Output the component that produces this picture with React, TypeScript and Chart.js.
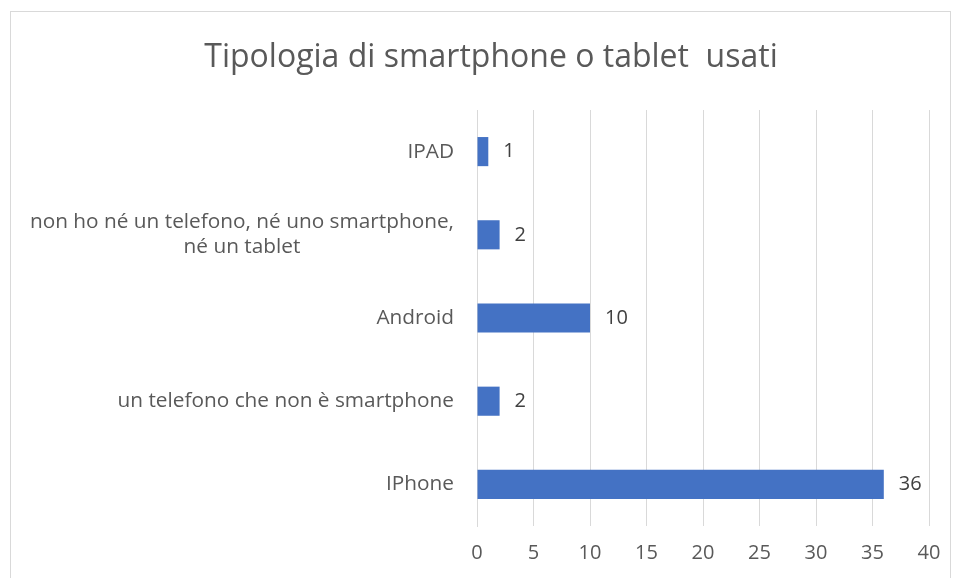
import React, { useEffect, useRef } from "react";
import { Chart, registerables } from "chart.js";

Chart.register(...registerables);

const categories: string[][] = [
  ["IPAD"],
  ["non ho né un telefono, né uno smartphone,", "né un tablet"],
  ["Android"],
  ["un telefono che non è smartphone"],
  ["IPhone"],
];
const values: number[] = [1, 2, 10, 2, 36];
const xTicks: number[] = [0, 5, 10, 15, 20, 25, 30, 35, 40];
const titleText = "Tipologia di smartphone o tablet  usati";

const FONT = "'Open Sans'";

export default function App() {
  const ref = useRef<HTMLCanvasElement | null>(null);
  useEffect(() => {
    document.body.style.margin = "0";
    const canvas = ref.current!;
    const framePlugin = {
      id: "frame",
      beforeDraw(chart: any) {
        const ctx = chart.ctx;
        ctx.save();
        ctx.strokeStyle = "#d9d9d9";
        ctx.lineWidth = 1;
        ctx.strokeRect(10.5, 11.5, 940, 600);
        ctx.restore();
      },
    };
    const labelPlugin = {
      id: "labels",
      afterDraw(chart: any) {
        const ctx = chart.ctx;
        const y = chart.scales.y;
        const x = chart.scales.x;
        ctx.save();
        ctx.textBaseline = "middle";
        ctx.fillStyle = "#595959";
        ctx.font = `32px ${FONT}`;
        ctx.textAlign = "center";
        ctx.fillText(titleText, 491, 58);
        ctx.font = `20.8px ${FONT}`;
        const lh = 25;
        categories.forEach((lines, i) => {
          const cy = y.getPixelForValue(i);
          const widths = lines.map((l) => ctx.measureText(l).width);
          const maxW = Math.max(...widths);
          const right = 454;
          const center = right - maxW / 2;
          lines.forEach((l, j) => {
            ctx.textAlign = "center";
            ctx.fillText(l, center, cy + (j - (lines.length - 1) / 2) * lh);
          });
        });
        ctx.fillStyle = "#404040";
        ctx.textAlign = "left";
        ctx.font = `20px ${FONT}`;
        values.forEach((v, i) => {
          const px = x.getPixelForValue(v);
          const cy = y.getPixelForValue(i);
          ctx.fillText(String(v), px + 15, cy);
        });
        ctx.restore();
      },
    };
    const chart = new Chart(canvas, {
      type: "bar",
      data: {
        labels: categories.map((c) => c.join(" ")),
        datasets: [
          {
            data: values,
            backgroundColor: "#4472c4",
            borderWidth: 0,
            barPercentage: 0.35,
            categoryPercentage: 1,
          },
        ],
      },
      options: {
        indexAxis: "y",
        animation: false,
        responsive: false,
        maintainAspectRatio: false,
        layout: { padding: { left: 10, right: 27, top: 110, bottom: 0 } },
        plugins: {
          legend: { display: false },
          tooltip: { enabled: false },
          title: { display: false },
        },
        scales: {
          x: {
            min: 0,
            max: 40,
            afterBuildTicks(scale: any) {
              scale.ticks = xTicks.map((v) => ({ value: v }));
            },
            grid: { color: "#d9d9d9", lineWidth: 1, drawTicks: false },
            border: { display: false },
            ticks: {
              color: "#595959",
              font: { family: FONT, size: 20 },
              padding: 15,
            },
            afterFit(scale: any) {
              scale.height = 52;
            },
          },
          y: {
            grid: { display: false },
            border: { display: true, color: "#d9d9d9" },
            ticks: { display: false },
            afterFit(scale: any) {
              scale.width = 467;
            },
          },
        },
      },
      plugins: [framePlugin, labelPlugin],
    });
    return () => chart.destroy();
  }, []);
  return (
    <div style={{ position: "fixed", left: 0, top: 0, width: 956, height: 578, background: "#fff" }}>
      <canvas ref={ref} width={956} height={578} />
    </div>
  );
}
